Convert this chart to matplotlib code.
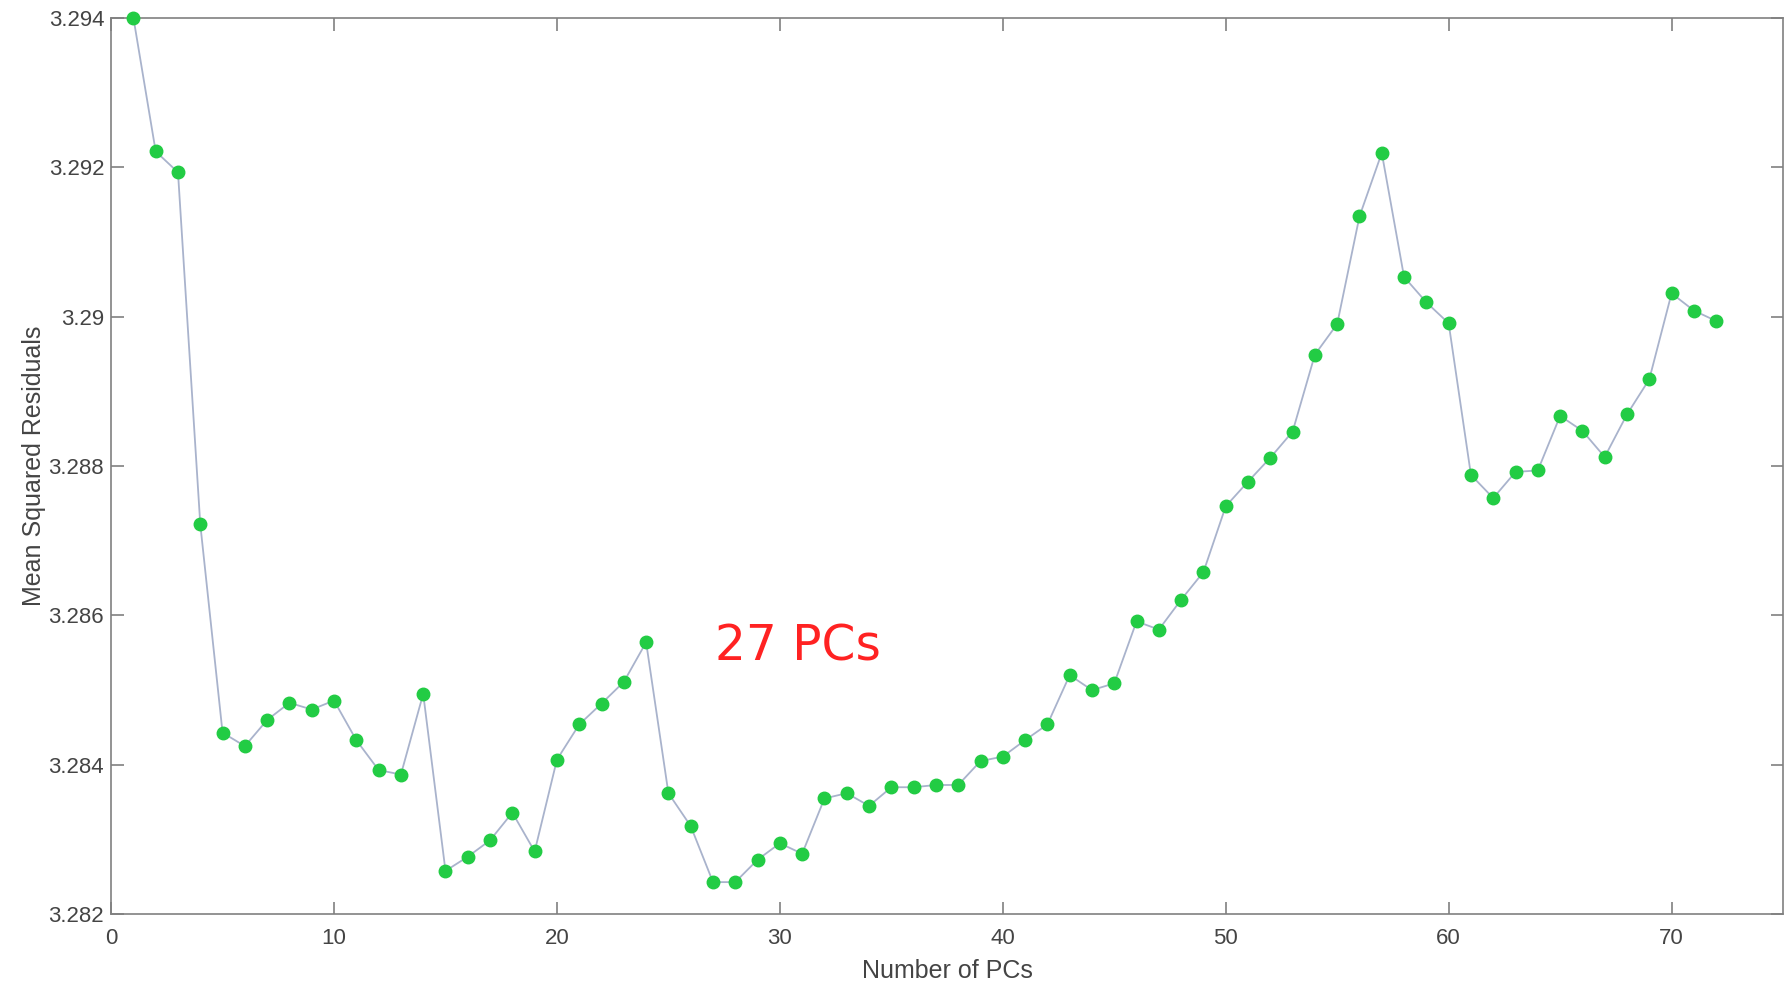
import matplotlib
matplotlib.use("Agg")
import matplotlib.pyplot as plt

# residuals vs. number of principal components kept
n_pcs = list(range(1, 73))
msr = [3.29400, 3.29221, 3.29193, 3.28722, 3.28443, 3.28425, 3.28460, 3.28483,
       3.28474, 3.28486, 3.28433, 3.28393, 3.28387, 3.28495, 3.28258, 3.28277,
       3.28299, 3.28336, 3.28284, 3.28407, 3.28454, 3.28482, 3.28511, 3.28564,
       3.28362, 3.28318, 3.28243, 3.28243, 3.28273, 3.28295, 3.28281, 3.28355,
       3.28362, 3.28345, 3.28370, 3.28370, 3.28373, 3.28373, 3.28405, 3.28411,
       3.28433, 3.28454, 3.28520, 3.28500, 3.28509, 3.28592, 3.28581, 3.28621,
       3.28658, 3.28746, 3.28779, 3.28811, 3.28846, 3.28949, 3.28990, 3.29134,
       3.29219, 3.29053, 3.29019, 3.28991, 3.28788, 3.28757, 3.28792, 3.28794,
       3.28867, 3.28847, 3.28812, 3.28869, 3.28916, 3.29031, 3.29008, 3.28994]
x_ticks = [0, 10, 20, 30, 40, 50, 60, 70]
y_ticks = [3.282, 3.284, 3.286, 3.288, 3.290, 3.292, 3.294]
y_tick_labels = ["3.282", "3.284", "3.286", "3.288", "3.29", "3.292", "3.294"]

plt.rcParams['font.family'] = ['Liberation Sans', 'DejaVu Sans']

fig = plt.figure(figsize=(17.92, 9.82), dpi=100)
ax = fig.add_axes([0.062, 0.069, 0.933, 0.913])

ax.plot(n_pcs, msr, color='#a9b3cc', linewidth=1.3, marker='o',
        markersize=9, markerfacecolor='#22cc44', markeredgecolor='#22cc44',
        zorder=3, clip_on=False)

ax.set_xlim(0, 75)
ax.set_ylim(3.282, 3.294)
ax.set_xticks(x_ticks)
ax.set_yticks(y_ticks)
ax.set_yticklabels(y_tick_labels)

for side in ax.spines.values():
    side.set_color('#808080')
    side.set_linewidth(1.2)
ax.tick_params(direction='in', length=9, width=1.2, colors='#808080',
               labelcolor='#444444', labelsize=16, top=True, right=True)
ax.tick_params(axis='x', pad=10)
ax.tick_params(axis='y', pad=5)

ax.set_xlabel("Number of PCs", fontsize=18, color='#444444', labelpad=7)
ax.set_ylabel("Mean Squared Residuals", fontsize=18, color='#444444', labelpad=2)

ax.text(27.1, 3.28558, "27 PCs", color='#ff2222', fontsize=35,
        family='DejaVu Sans', va='center', ha='left')

fig.savefig("out.png", dpi=100)
